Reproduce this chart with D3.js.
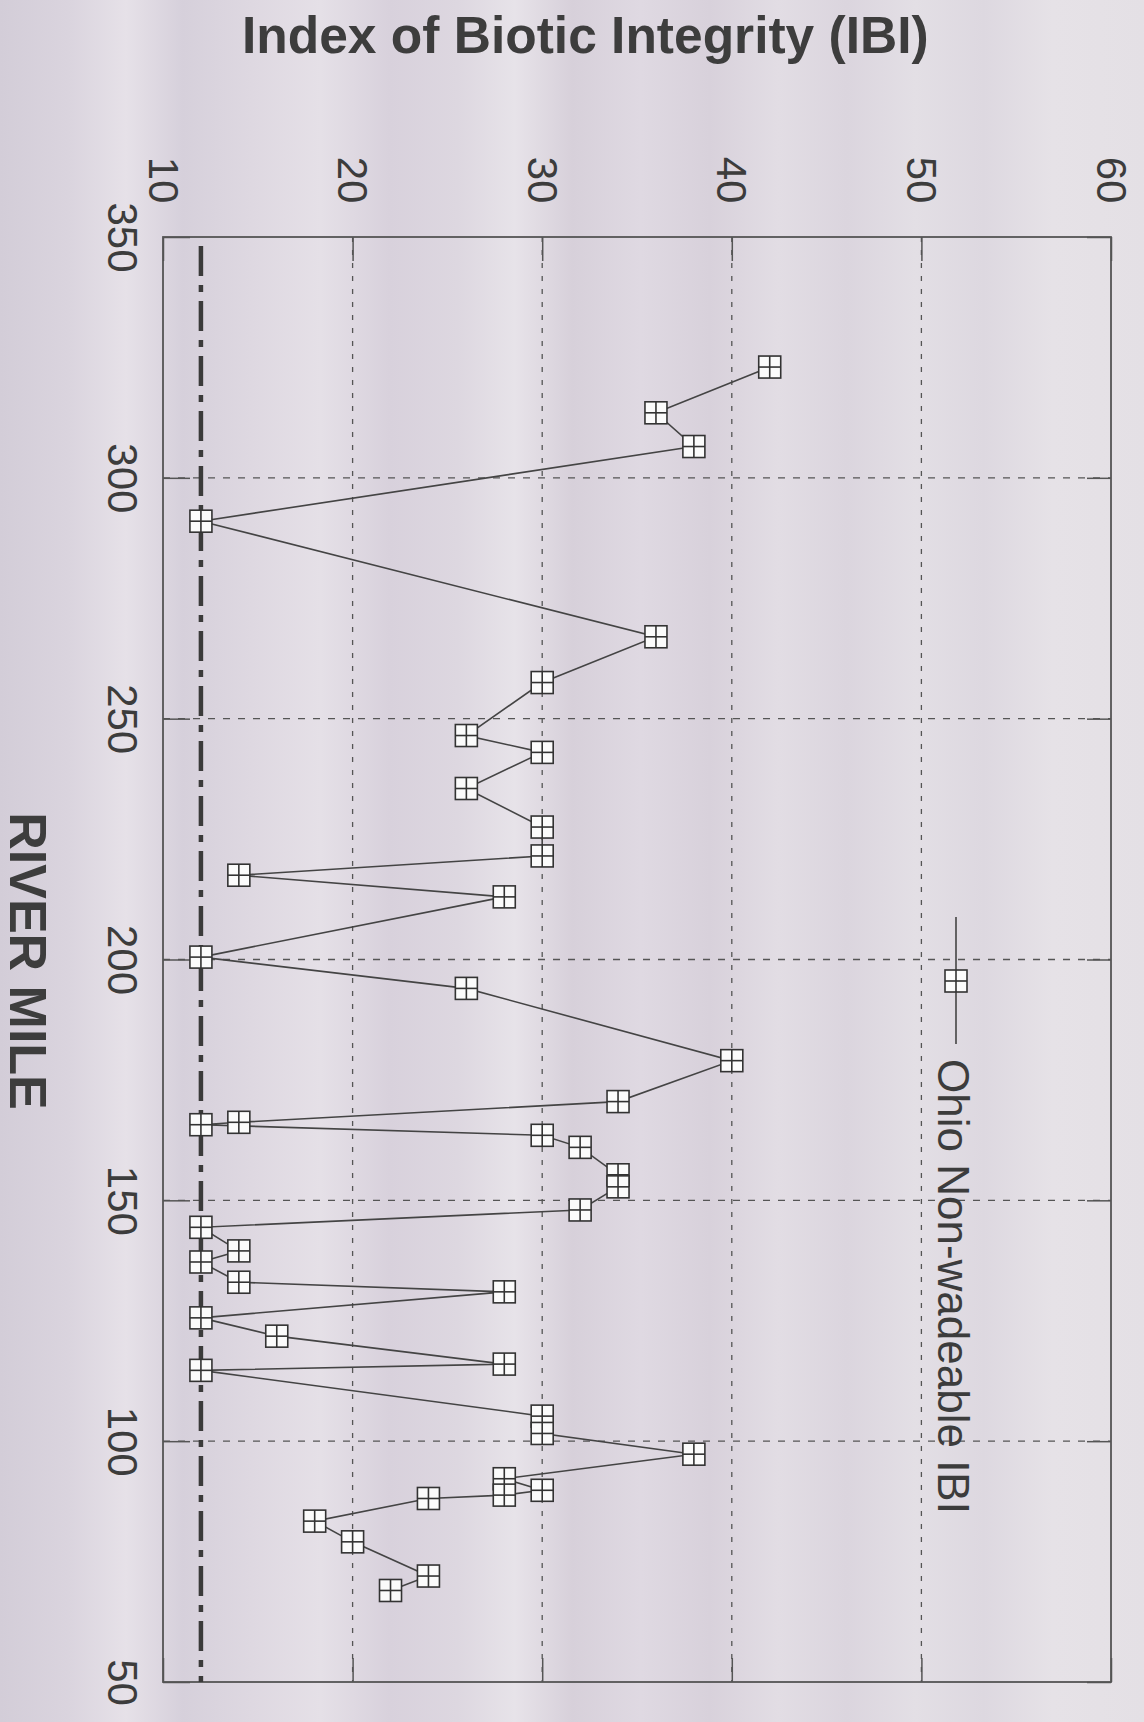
<!DOCTYPE html>
<html>
<head>
<meta charset="utf-8">
<script src="https://cdn.jsdelivr.net/npm/d3@7"></script>
<style>
  html, body { margin: 0; padding: 0; background: #dad4de; }
  svg { display: block; }
  .axis text { font-family: "Liberation Sans", Arial, sans-serif; font-size: 42px; fill: #3c3c3c; }
  .axis line { stroke: #555; stroke-width: 1.5; }
  .axis path { display: none; }
</style>
</head>
<body>
<div id="chart"></div>
<script>
// tick values
var ibiTicks = [10, 20, 30, 40, 50, 60];
var mileTicks = [350, 300, 250, 200, 150, 100, 50];

// sampled sites, upstream to downstream
var riverMile = [323, 313.5, 306.5, 291, 267, 257.5, 246.5, 243, 235.5, 227.5,
    221.5, 217.5, 213, 200.5, 194, 179, 170.5, 166.2, 165.7, 163.5,
    161, 155.3, 152.8, 148, 144.4, 139.5, 137.2, 133, 131, 125.6,
    121.8, 116, 114.7, 105.2, 101.6, 97.3, 92.2, 89.8, 88.8, 88.1,
    83.4, 79.1, 72, 69];
var ibiScore = [42, 36, 38, 12, 36, 30, 26, 30, 26, 30,
    30, 14, 28, 12, 26, 40, 34, 14, 12, 30,
    32, 34, 34, 32, 12, 14, 12, 14, 28, 12,
    16, 28, 12, 30, 30, 38, 28, 30, 28, 24,
    18, 20, 24, 22];
var referenceIBI = 12;
var seriesName = "Ohio Non-wadeable IBI";

var width = 1144, height = 1722;
var plotLeft = 163, plotRight = 1111, plotTop = 237, plotBottom = 1682;

var svg = d3.select("#chart").append("svg")
    .attr("width", width)
    .attr("height", height);

// scanned paper look: vertical streaks
var grad = svg.append("defs").append("linearGradient")
    .attr("id", "paper").attr("x1", 0).attr("x2", 1).attr("y1", 0).attr("y2", 0);
[[0, "#d3cdd8"], [0.06, "#dad4de"], [0.11, "#e6e1e8"], [0.16, "#d6d0db"], [0.22, "#ded8e1"],
 [0.28, "#e5e0e7"], [0.34, "#d8d1dc"], [0.40, "#ddd7e0"], [0.45, "#e7e3e9"], [0.50, "#d7d0da"],
 [0.56, "#dfd9e2"], [0.62, "#d8d1db"], [0.68, "#e2dde4"], [0.74, "#dbd5de"], [0.80, "#e3dfe5"],
 [0.86, "#ddd8e0"], [0.92, "#e6e2e7"], [1, "#e4e0e5"]].forEach(function (s) {
    grad.append("stop").attr("offset", s[0]).attr("stop-color", s[1]);
});
svg.append("rect").attr("width", width).attr("height", height).attr("fill", "url(#paper)");

var x = d3.scaleLinear().domain([10, 60]).range([plotLeft, plotRight]);
var y = d3.scaleLinear().domain([350, 50]).range([plotTop, plotBottom]);

// grid lines
svg.append("g").selectAll("line")
    .data(ibiTicks.slice(1, -1))
    .enter().append("line")
    .attr("x1", function (d) { return x(d); })
    .attr("x2", function (d) { return x(d); })
    .attr("y1", plotTop).attr("y2", plotBottom)
    .attr("stroke", "#555").attr("stroke-width", 1.3)
    .attr("stroke-dasharray", "5,8");

svg.append("g").selectAll("line")
    .data(mileTicks.slice(1, -1))
    .enter().append("line")
    .attr("y1", function (d) { return y(d); })
    .attr("y2", function (d) { return y(d); })
    .attr("x1", plotLeft).attr("x2", plotRight)
    .attr("stroke", "#555").attr("stroke-width", 1.3)
    .attr("stroke-dasharray", "7,8");

// axes, ticks pointing inward
var topAxis = svg.append("g").attr("class", "axis")
    .attr("transform", "translate(0," + plotTop + ")")
    .call(d3.axisTop(x).tickValues(ibiTicks).tickSizeInner(-24).tickSizeOuter(0));
topAxis.selectAll("text")
    .attr("y", null).attr("dy", null)
    .attr("text-anchor", "middle")
    .attr("transform", "translate(-15,-57) rotate(90)");

svg.append("g").attr("class", "axis")
    .attr("transform", "translate(0," + plotBottom + ")")
    .call(d3.axisBottom(x).tickValues(ibiTicks).tickSizeInner(-24).tickSizeOuter(0).tickFormat(""));

var leftAxis = svg.append("g").attr("class", "axis")
    .attr("transform", "translate(" + plotLeft + ",0)")
    .call(d3.axisLeft(y).tickValues(mileTicks).tickSizeInner(-27).tickSizeOuter(0));
leftAxis.selectAll("text")
    .attr("x", null).attr("dy", null)
    .attr("text-anchor", "middle")
    .attr("transform", "translate(-55,0) rotate(90)");

svg.append("g").attr("class", "axis")
    .attr("transform", "translate(" + plotRight + ",0)")
    .call(d3.axisRight(y).tickValues(mileTicks).tickSizeInner(-24).tickSizeOuter(0).tickFormat(""));

// frame
svg.append("rect")
    .attr("x", plotLeft).attr("y", plotTop)
    .attr("width", plotRight - plotLeft).attr("height", plotBottom - plotTop)
    .attr("fill", "none").attr("stroke", "#555").attr("stroke-width", 1.8);

// reference line
svg.append("line")
    .attr("x1", x(referenceIBI)).attr("x2", x(referenceIBI))
    .attr("y1", plotTop + 9).attr("y2", plotBottom)
    .attr("stroke", "#3a3a3a").attr("stroke-width", 4.5)
    .attr("stroke-dasharray", "30,9,7,9");

var pts = riverMile.map(function (m, i) { return { mile: m, ibi: ibiScore[i] }; });

svg.append("path")
    .datum(pts)
    .attr("fill", "none")
    .attr("stroke", "#444")
    .attr("stroke-width", 1.6)
    .attr("d", d3.line()
        .x(function (d) { return x(d.ibi); })
        .y(function (d) { return y(d.mile); }));

function marker(g) {
    g.append("rect").attr("x", -11).attr("y", -11).attr("width", 22).attr("height", 22)
        .attr("fill", "#fbfbfb").attr("stroke", "#333").attr("stroke-width", 1.6);
    g.append("line").attr("x1", 0).attr("x2", 0).attr("y1", -11).attr("y2", 11)
        .attr("stroke", "#333").attr("stroke-width", 1.6);
    g.append("line").attr("x1", -11).attr("x2", 11).attr("y1", 0).attr("y2", 0)
        .attr("stroke", "#333").attr("stroke-width", 1.6);
}

svg.append("g").selectAll("g")
    .data(pts)
    .enter().append("g")
    .attr("transform", function (d) { return "translate(" + x(d.ibi) + "," + y(d.mile) + ")"; })
    .call(marker);

// legend
var legend = svg.append("g");
legend.append("line")
    .attr("x1", 956).attr("x2", 956).attr("y1", 917).attr("y2", 1044)
    .attr("stroke", "#444").attr("stroke-width", 1.6);
legend.append("g").attr("transform", "translate(956,981)").call(marker);
legend.append("text")
    .attr("transform", "translate(938,1059) rotate(90)")
    .attr("font-family", "Liberation Sans, Arial, sans-serif")
    .attr("font-size", 44)
    .attr("fill", "#3c3c3c")
    .text(seriesName);

// titles
svg.append("text")
    .attr("x", 242).attr("y", 53)
    .attr("font-family", "Liberation Sans, Arial, sans-serif")
    .attr("font-weight", "bold")
    .attr("font-size", 51.5)
    .attr("fill", "#3d3d3d")
    .text("Index of Biotic Integrity (IBI)");

svg.append("text")
    .attr("transform", "translate(10,961) rotate(90)")
    .attr("text-anchor", "middle")
    .attr("font-family", "Liberation Sans, Arial, sans-serif")
    .attr("font-weight", "bold")
    .attr("font-size", 52)
    .attr("fill", "#3d3d3d")
    .text("RIVER MILE");
</script>
</body>
</html>
